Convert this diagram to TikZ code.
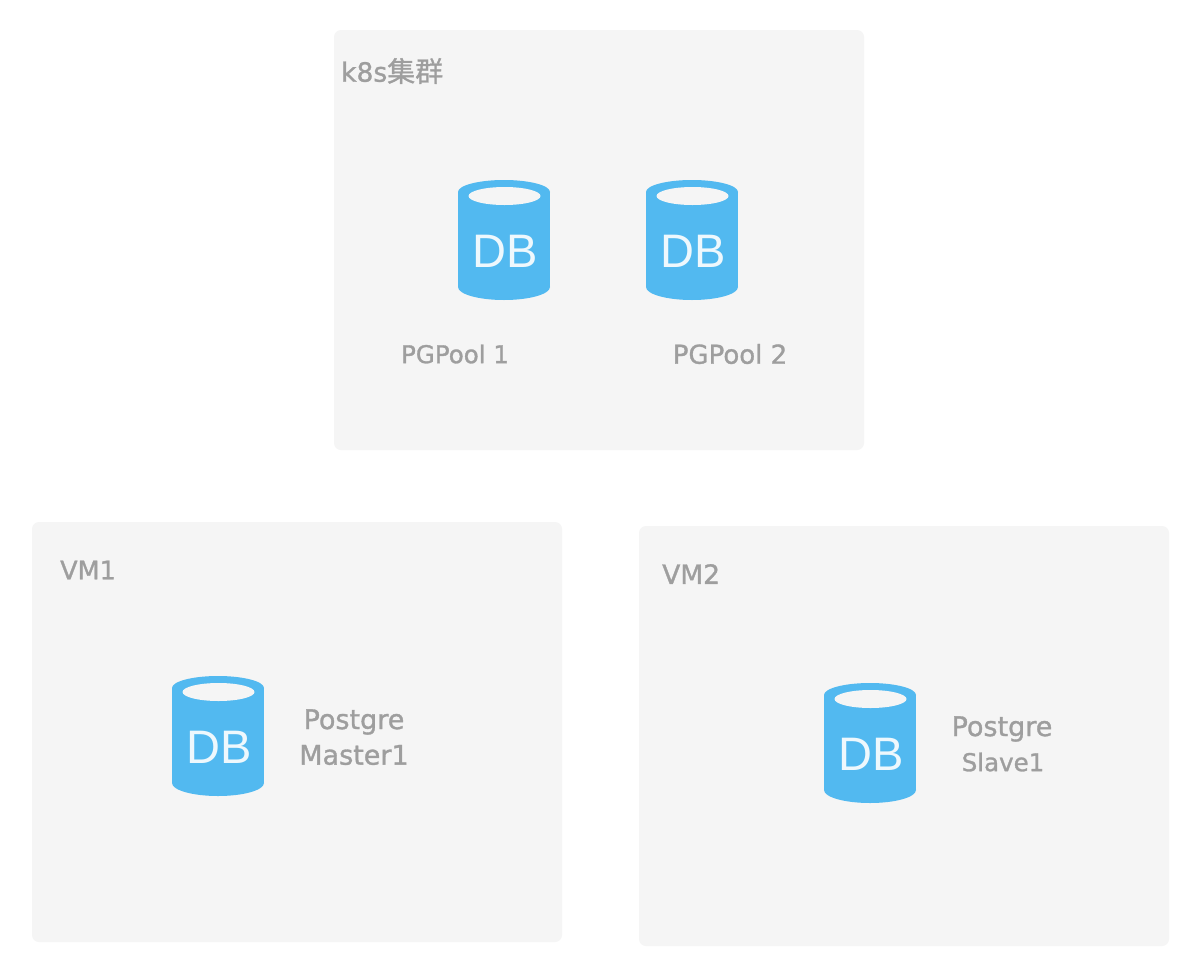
\documentclass[tikz,border=0pt]{standalone}
\usepackage{fontspec}
\newfontfamily\cjk[BoldFont={Noto Sans CJK SC},BoldFeatures={FakeBold=1}]{Noto Sans CJK SC}
\newfontfamily\hand[BoldFont={DejaVu Sans},BoldFeatures={FakeBold=1.2}]{DejaVu Sans}
\newfontfamily\dbf{Liberation Sans}
\definecolor{panel}{HTML}{F5F5F5}
\definecolor{dbblue}{HTML}{52B9F0}
\definecolor{txt}{HTML}{9E9E9E}
\definecolor{dbtxt}{HTML}{EEF8FD}
\tikzset{x=1pt,y=-1pt,
 panelbox/.style={fill=panel,rounded corners=7pt,draw=none},
 lab/.style={text=txt,font=\hand\bfseries\fontsize{#1}{30}\selectfont,align=center,inner sep=0pt}}
\newcommand{\dbicon}[3]{%
 \begin{scope}[shift={(#1,#2)}]
 \fill[dbblue] (0,-48) ellipse[x radius=46,y radius=12];
 \fill[dbblue] (0,47) ellipse[x radius=46,y radius=13];
 \fill[dbblue] (-46,-48) rectangle (46,47);
 \fill[panel] (0.5,-44) ellipse[x radius=36,y radius=9];
 \node[text=dbtxt,font=\dbf\fontsize{47}{47}\selectfont,inner sep=0pt] (#3) at (1,11) {DB};
 \end{scope}}
\begin{document}
\begin{tikzpicture}
\useasboundingbox (0,0) rectangle (1194,972);
\fill[white] (0,0) rectangle (1194,972);
\fill[panelbox] (334,30) rectangle (864,450);
\fill[panelbox] (32,522) rectangle (562,942);
\fill[panelbox] (639,526) rectangle (1169,946);
\dbicon{504}{240}{db1}
\dbicon{692}{240}{db2}
\dbicon{218}{736}{db3}
\dbicon{870}{743}{db4}
\node[lab=26.5,anchor=west] (t0) at (341,71) {k8s{\cjk\bfseries\fontsize{28}{30}\selectfont 集群}};
\node[lab=24.5] (t1) at (455,354) {PGPool 1};
\node[lab=26] (t2) at (730,354) {PGPool 2};
\node[lab=25.5,anchor=west] (t3) at (60,570) {VM1};
\node[lab=26.5,anchor=west] (t4) at (662,574) {VM2};
\node[lab=27] (t5) at (354,722) {Postgre};
\node[lab=27] (t6) at (354,755) {Master1};
\node[lab=27] (t7) at (1002,729) {Postgre};
\node[lab=24.5] (t8) at (1003,762) {Slave1};
\end{tikzpicture}
\end{document}
